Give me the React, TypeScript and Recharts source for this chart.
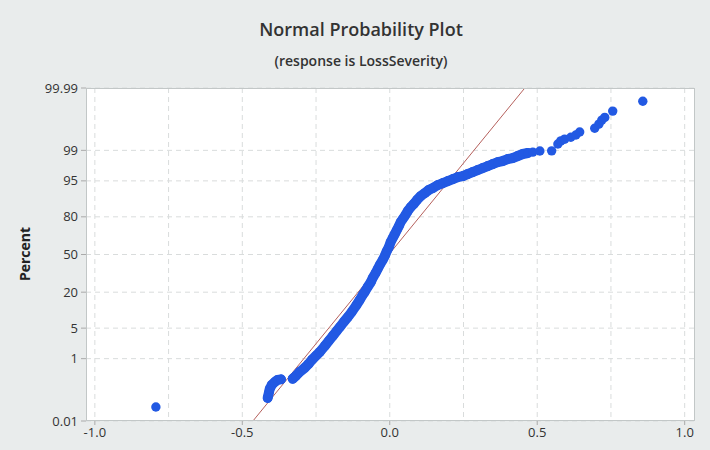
import React from 'react';
import {
    ScatterChart, Scatter, XAxis, YAxis, CartesianGrid, ReferenceLine,
} from 'recharts';

// residuals (x) and their plotted percent (y) in order
const RESIDUALS = [
    -0.793,
    -0.414, -0.410, -0.407, -0.400, -0.390, -0.380, -0.369,
    -0.329, -0.319, -0.305, -0.288, -0.275, -0.264, -0.251, -0.237, -0.220, -0.207,
    -0.193, -0.180, -0.169, -0.156, -0.142, -0.129, -0.115, -0.102, -0.092, -0.085,
    -0.075, -0.064, -0.058, -0.048, -0.041, -0.034, -0.024, -0.017, -0.010, -0.003,
    0.003, 0.010, 0.017, 0.024, 0.031, 0.037, 0.044, 0.051, 0.061, 0.071,
    0.081, 0.092, 0.105, 0.119, 0.132, 0.146, 0.163, 0.180, 0.197, 0.214,
    0.231, 0.248, 0.264, 0.281, 0.298, 0.315, 0.332, 0.349, 0.366, 0.383,
    0.400, 0.417, 0.434, 0.451, 0.468,
    0.485, 0.509, 0.549, 0.570, 0.580, 0.593, 0.614, 0.631, 0.644,
    0.695, 0.709, 0.719, 0.729, 0.756, 0.858,
];

const PERCENTS = [
    0.033,
    0.068, 0.10, 0.134, 0.18, 0.22, 0.255, 0.265,
    0.275, 0.33, 0.44, 0.57, 0.73, 0.93, 1.17, 1.48, 2.06, 2.67,
    3.45, 4.38, 5.28, 6.59, 8.15, 9.97, 12.5, 15.5, 18.3, 20.1,
    23.4, 27.0, 30.0, 34.0, 37.3, 40.7, 45.1, 48.7, 53.1, 56.6,
    61.0, 64.4, 67.6, 70.8, 73.8, 76.6, 78.6, 80.5, 83.4, 85.5,
    87.0, 88.8, 90.4, 91.5, 92.5, 93.1, 93.96, 94.47, 94.96, 95.40,
    95.82, 96.01, 96.38, 96.72, 97.04, 97.33, 97.59, 97.83, 98.05, 98.16,
    98.35, 98.44, 98.61, 98.76, 98.83,
    98.89, 98.96, 98.97, 99.32, 99.44, 99.50, 99.56, 99.62, 99.69,
    99.76, 99.82, 99.866, 99.89, 99.932, 99.969,
];

// the dense runs of overlapping points (index ranges into the arrays above)
const CLUSTER_RUN = [1, 8];
const MAIN_RUN = [8, 73];

// fitted normal line, end points
const FIT_X = [-0.464, 0.458];
const FIT_P = [0.01, 99.99];

const X_TICKS = [-1, -0.5, 0, 0.5, 1];
const X_GRID = [-1, -0.75, -0.5, -0.25, 0, 0.25, 0.5, 0.75, 1];
const Y_TICK_LABELS = ['0.01', '1', '5', '20', '50', '80', '95', '99', '99.99'];

// inverse standard normal cdf (Acklam) -> probability axis
const normInv = (p: number): number => {
    const a = [-39.69683028665376, 220.9460984245205, -275.9285104469687, 138.357751867269, -30.66479806614716, 2.506628277459239];
    const b = [-54.47609879822406, 161.5858368580409, -155.6989798598866, 66.80131188771972, -13.28068155288572];
    const c = [-0.007784894002430293, -0.3223964580411365, -2.400758277161838, -2.549732539343734, 4.374664141464968, 2.938163982698783];
    const d = [0.007784695709041462, 0.3224671290700398, 2.445134137142996, 3.754408661907416];
    const pl = 0.02425;
    if (p < pl) {
        const q = Math.sqrt(-2 * Math.log(p));
        return (((((c[0] * q + c[1]) * q + c[2]) * q + c[3]) * q + c[4]) * q + c[5]) /
            ((((d[0] * q + d[1]) * q + d[2]) * q + d[3]) * q + 1);
    }
    if (p > 1 - pl) {
        const q = Math.sqrt(-2 * Math.log(1 - p));
        return -(((((c[0] * q + c[1]) * q + c[2]) * q + c[3]) * q + c[4]) * q + c[5]) /
            ((((d[0] * q + d[1]) * q + d[2]) * q + d[3]) * q + 1);
    }
    const q = p - 0.5;
    const r = q * q;
    return (((((a[0] * r + a[1]) * r + a[2]) * r + a[3]) * r + a[4]) * r + a[5]) * q /
        (((((b[0] * r + b[1]) * r + b[2]) * r + b[3]) * r + b[4]) * r + 1);
};

const Z_TICKS = Y_TICK_LABELS.map(l => normInv(parseFloat(l) / 100));
const Z_MAX = normInv(0.9999);

const points = RESIDUALS.map((x, i) => ({ x, z: normInv(PERCENTS[i] / 100) }));
const clusterRun = points.slice(CLUSTER_RUN[0], CLUSTER_RUN[1]);
const mainRun = points.slice(MAIN_RUN[0], MAIN_RUN[1]);

const BLUE = '#2259e3';
const FONT = '"Open Sans", "Noto Sans", sans-serif';

const Dot: React.FC<any> = ({ cx, cy }) => (
    <circle cx={cx} cy={cy} r={4.7} fill={BLUE} />
);

const runLine = { stroke: BLUE, strokeWidth: 10, strokeLinecap: 'round', strokeLinejoin: 'round' } as any;

const App: React.FC = () => (
    <div style={{ position: 'relative', width: 710, height: 450, background: '#e9ecec', fontFamily: FONT }}>
        <style>{'body{margin:0}'}</style>
        <div style={{ position: 'absolute', left: 0, width: 722, top: 17, textAlign: 'center',
                      fontSize: 18, fontWeight: 600, color: '#333' }}>
            Normal Probability Plot
        </div>
        <div style={{ position: 'absolute', left: 0, width: 722, top: 51, textAlign: 'center',
                      fontSize: 14, fontWeight: 600, color: '#333' }}>
            (response is LossSeverity)
        </div>
        <div style={{ position: 'absolute', left: 24, top: 254, transform: 'translate(-50%, -50%) rotate(-90deg)',
                      fontSize: 14, fontWeight: 700, color: '#222', whiteSpace: 'nowrap' }}>
            Percent
        </div>

        <ScatterChart width={710} height={450} margin={{ top: 88, right: 15, bottom: 0, left: 0 }}>
            <CartesianGrid fill="#fff" stroke="#d9dcdc" strokeDasharray="5 4"
                           verticalValues={X_GRID} horizontalValues={Z_TICKS} />
            <XAxis type="number" dataKey="x" domain={[-1.03, 1.035]} ticks={X_TICKS}
                   allowDataOverflow height={29} axisLine={false}
                   tickSize={4} tickMargin={3} tickLine={{ stroke: '#aaa' }}
                   tick={{ fontSize: 13, fill: '#333', fontFamily: FONT }}
                   tickFormatter={(v: number) => v.toFixed(1)} />
            <YAxis type="number" dataKey="z" domain={[-Z_MAX, Z_MAX]} ticks={Z_TICKS}
                   allowDataOverflow width={86} axisLine={false}
                   tickSize={5} tickMargin={3} tickLine={{ stroke: '#aaa' }}
                   tick={{ fontSize: 13, fill: '#333', fontFamily: FONT }}
                   tickFormatter={(_v: number, i: number) => Y_TICK_LABELS[i]} />
            <Scatter data={clusterRun} line={runLine} shape={<Dot />} isAnimationActive={false} />
            <Scatter data={mainRun} line={runLine} shape={<Dot />} isAnimationActive={false} />
            <Scatter data={points} shape={<Dot />} isAnimationActive={false} />
            <ReferenceLine
                segment={[
                    { x: FIT_X[0], y: normInv(FIT_P[0] / 100) },
                    { x: FIT_X[1], y: normInv(FIT_P[1] / 100) },
                ]}
                stroke="#b5605c" strokeWidth={1} ifOverflow="hidden" />
        </ScatterChart>

        <div style={{ position: 'absolute', left: 86, top: 88, width: 609, height: 333,
                      boxSizing: 'border-box', border: '1px solid #c2c7c7', pointerEvents: 'none' }} />
    </div>
);

export default App;
